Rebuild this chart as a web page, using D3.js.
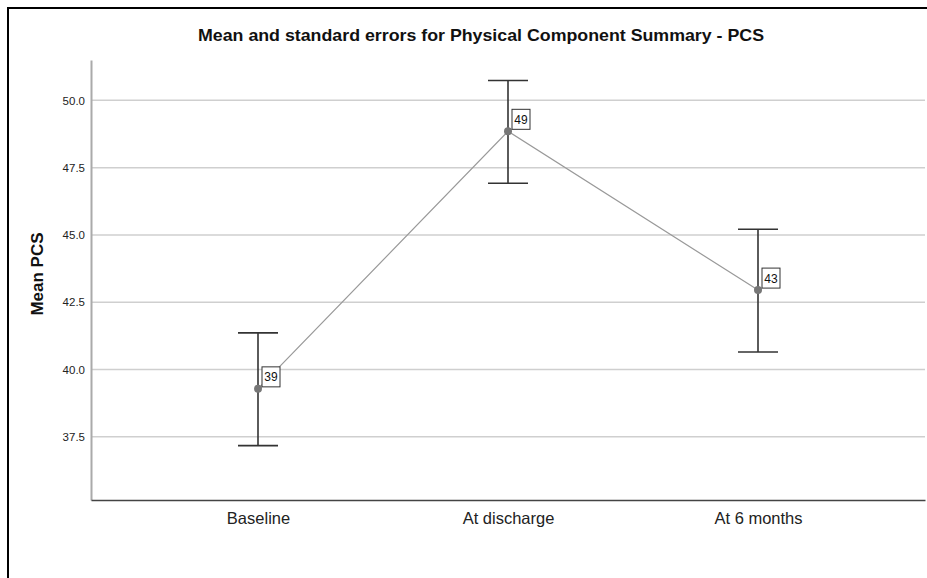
<!DOCTYPE html>
<html>
<head>
<meta charset="utf-8">
<script src="https://cdn.jsdelivr.net/npm/d3@7"></script>
<style>
  body { margin: 0; background: #fff; }
  svg { display: block; font-family: "Liberation Sans", Arial, sans-serif; }
</style>
</head>
<body>
<div id="chart"></div>
<script>
// -- Mean + SE plot for PCS --
const categories = ['Baseline', 'At discharge', 'At 6 months'];
const means = [39.28, 48.85, 42.95];
const upper = [41.36, 50.74, 45.21];
const lower = [37.17, 46.92, 40.65];
const pointLabels = ['39', '49', '43'];
const yTicks = [37.5, 40.0, 42.5, 45.0, 47.5, 50.0];

const width = 927, height = 578;
const rows = categories.map((c, i) => ({ cat: c, mean: means[i], hi: upper[i], lo: lower[i], label: pointLabels[i] }));

const svg = d3.select('#chart').append('svg')
  .attr('width', width)
  .attr('height', height);

// outer frame (top + left only, like the export)
svg.append('path')
  .attr('d', 'M8,578 V8 H927')
  .attr('fill', 'none')
  .attr('stroke', '#000')
  .attr('stroke-width', 2);

const x = d3.scalePoint().domain(categories).range([91, 925]).padding(0.668);
const y = d3.scaleLinear().domain([35.15, 51.5]).range([500, 60]);

// gridlines
svg.append('g').selectAll('line')
  .data(yTicks)
  .enter().append('line')
  .attr('x1', 92).attr('x2', 925)
  .attr('y1', d => y(d)).attr('y2', d => y(d))
  .attr('stroke', '#cfcfcf')
  .attr('stroke-width', 1.5);

// y axis
const yAxis = svg.append('g')
  .attr('transform', 'translate(91,0)')
  .call(d3.axisLeft(y).tickValues(yTicks).tickFormat(d3.format('.1f')).tickSize(0).tickPadding(6));
yAxis.select('.domain').attr('stroke', '#aaa').attr('stroke-width', 2);
yAxis.selectAll('text').attr('font-size', '11.5px').attr('fill', '#222')
  .attr('font-family', '"Liberation Sans", Arial, sans-serif');

// x axis
const xAxis = svg.append('g')
  .attr('transform', 'translate(0,500)')
  .call(d3.axisBottom(x).tickSize(0).tickPadding(12));
xAxis.select('.domain').attr('stroke', '#444').attr('stroke-width', 1.5);
xAxis.selectAll('text').attr('font-size', '16.5px').attr('fill', '#222')
  .attr('font-family', '"Liberation Sans", Arial, sans-serif');

// title
svg.append('text')
  .attr('x', 481).attr('y', 41)
  .attr('text-anchor', 'middle')
  .attr('font-size', '17px')
  .attr('font-weight', 'bold')
  .attr('fill', '#111')
  .attr('textLength', 566)
  .attr('lengthAdjust', 'spacingAndGlyphs')
  .text('Mean and standard errors for Physical Component Summary - PCS');

// y axis title
svg.append('text')
  .attr('transform', 'translate(43,274) rotate(-90)')
  .attr('text-anchor', 'middle')
  .attr('font-size', '17px')
  .attr('font-weight', 'bold')
  .attr('fill', '#111')
  .text('Mean PCS');

// connecting line
svg.append('path')
  .datum(rows)
  .attr('fill', 'none')
  .attr('stroke', '#999')
  .attr('stroke-width', 1.2)
  .attr('d', d3.line().x(d => x(d.cat)).y(d => y(d.mean)));

// error bars
const bars = svg.append('g').selectAll('g')
  .data(rows)
  .enter().append('g')
  .attr('stroke', '#333')
  .attr('stroke-width', 1.6);

bars.append('line')
  .attr('x1', d => x(d.cat)).attr('x2', d => x(d.cat))
  .attr('y1', d => y(d.hi)).attr('y2', d => y(d.lo));
bars.append('line')
  .attr('x1', d => x(d.cat) - 20).attr('x2', d => x(d.cat) + 20)
  .attr('y1', d => y(d.hi)).attr('y2', d => y(d.hi));
bars.append('line')
  .attr('x1', d => x(d.cat) - 20).attr('x2', d => x(d.cat) + 20)
  .attr('y1', d => y(d.lo)).attr('y2', d => y(d.lo));

// means
svg.append('g').selectAll('circle')
  .data(rows)
  .enter().append('circle')
  .attr('cx', d => x(d.cat))
  .attr('cy', d => y(d.mean))
  .attr('r', 4)
  .attr('fill', '#777');

// value boxes
const lab = svg.append('g').selectAll('g')
  .data(rows)
  .enter().append('g')
  .attr('transform', d => `translate(${x(d.cat) + 4},${y(d.mean) - 22})`);
lab.append('rect')
  .attr('width', 18).attr('height', 20)
  .attr('fill', '#fff')
  .attr('stroke', '#333')
  .attr('stroke-width', 1);
lab.append('text')
  .attr('x', 9).attr('y', 14.5)
  .attr('text-anchor', 'middle')
  .attr('font-size', '12px')
  .attr('fill', '#111')
  .text(d => d.label);
</script>
</body>
</html>
